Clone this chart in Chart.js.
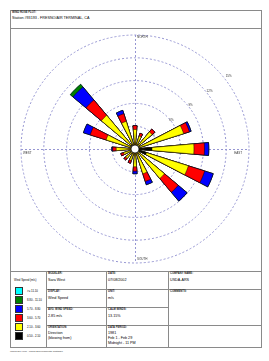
<!DOCTYPE html>
<html>
<head>
<meta charset="utf-8">
<script src="https://cdn.jsdelivr.net/npm/chart.js@4.4.0/dist/chart.umd.min.js"></script>
<style>
  html, body { margin: 0; padding: 0; background: #fff; width: 269px; height: 361px; overflow: hidden;
    font-family: "Liberation Sans", Arial, sans-serif; }
  .frame { position: absolute; left: 10px; top: 10px; width: 252px; height: 338px; box-sizing: border-box; border: 1px solid #8a8a8a; }
  .ln { position: absolute; background: #8a8a8a; }
  .t { position: absolute; white-space: nowrap; color: #000; line-height: 1; }
  .h { font-size: 2.7px; font-weight: bold; color: #222; }
  .v { font-size: 3.7px; }
  .s { font-size: 2.8px; }
  .sw { position: absolute; left: 15px; width: 8px; height: 8px; box-sizing: border-box; border: 0.5px solid #333; }
  #rose { position: absolute; left: 15px; top: 29px; }
</style>
</head>
<body>

<div class="frame"></div>
<div class="ln" style="left:10px;top:28px;width:252px;height:1px"></div>
<div class="ln" style="left:10px;top:271px;width:252px;height:1px"></div>
<div class="ln" style="left:46px;top:271px;width:1px;height:77px"></div>
<div class="ln" style="left:106px;top:271px;width:1px;height:77px"></div>
<div class="ln" style="left:168px;top:271px;width:1px;height:77px"></div>
<div class="ln" style="left:46px;top:289px;width:216px;height:1px"></div>
<div class="ln" style="left:46px;top:307px;width:122px;height:1px"></div>
<div class="ln" style="left:46px;top:325px;width:216px;height:1px"></div>

<div class="t h" style="left:12px;top:12px">WIND ROSE PLOT:</div>
<div class="t v" style="left:12px;top:17px">Station #93193 - FRESNO/AIR TERMINAL, CA</div>

<div class="t s" style="left:14px;top:279px">Wind Speed (m/s)</div>
<div id="legend"></div>

<div class="t h" style="left:48px;top:273px">MODELER:</div>
<div class="t v" style="left:48px;top:279px">Sara West</div>
<div class="t h" style="left:108px;top:273px">DATE:</div>
<div class="t v" style="left:108px;top:279px">07/08/2002</div>
<div class="t h" style="left:170px;top:273px">COMPANY NAME:</div>
<div class="t v" style="left:170px;top:279px">USDA-ARS</div>

<div class="t h" style="left:48px;top:291px">DISPLAY:</div>
<div class="t v" style="left:48px;top:297px">Wind Speed</div>
<div class="t h" style="left:108px;top:291px">UNIT:</div>
<div class="t v" style="left:108px;top:297px">m/s</div>
<div class="t h" style="left:170px;top:291px">COMMENTS:</div>

<div class="t h" style="left:48px;top:309px">AVG. WIND SPEED:</div>
<div class="t v" style="left:48px;top:315px">2.85 m/s</div>
<div class="t h" style="left:108px;top:309px">CALM WINDS:</div>
<div class="t v" style="left:108px;top:315px">13.15%</div>

<div class="t h" style="left:48px;top:327px">ORIENTATION:</div>
<div class="t v" style="left:48px;top:331.5px">Direction</div>
<div class="t v" style="left:48px;top:336.5px">(blowing from)</div>
<div class="t h" style="left:108px;top:327px">DATA PERIOD:</div>
<div class="t v" style="left:108px;top:331.5px">1981</div>
<div class="t v" style="left:108px;top:336.5px">Feb 1 - Feb 29</div>
<div class="t v" style="left:108px;top:341.5px">Midnight - 11 PM</div>

<div class="t" style="left:10px;top:351px;font-size:2.5px;color:#333">WRPLOT View - Lakes Environmental Software</div>

<canvas id="rose" width="240" height="240"></canvas>

<script>
// directions the wind blows from, clockwise from north
const directions = ["N", "NNE", "NE", "ENE", "E", "ESE", "SE", "SSE",
                    "S", "SSW", "SW", "WSW", "W", "WNW", "NW", "NNW"];

// speed classes, slowest first (m/s)
const speedClasses = ["0.50 - 2.10", "2.10 - 3.60", "3.60 - 5.70",
                      "5.70 - 8.80", "8.80 - 11.10", ">= 11.10"];

// frequency (% of hours) per direction for each class
const pct050to210 = [0.53, 0.39, 0.39, 0.53, 2.24, 1.58, 0.53, 0.39, 0.39, 0.39, 0.39, 0.39, 0.39, 0.53, 0.66, 0.53];
const pct210to360 = [2.04, 1.39, 2.56, 6.18, 5.52, 5.79, 4.54, 3.03, 1.95, 1.19, 1.23, 1.19, 2.08, 3.46, 5.13, 3.29];
const pct360to570 = [0.50, 0.39, 0.47, 0.79, 1.38, 2.24, 2.36, 1.05, 0.58, 0.39, 0.29, 0.38, 0.46, 2.19, 2.63, 1.05];
const pct570to880 = [0.00, 0.00, 0.00, 0.24, 0.57, 1.18, 1.52, 0.46, 0.34, 0.00, 0.00, 0.00, 0.12, 0.93, 2.24, 0.46];
const pct880to1110 = [0, 0, 0, 0, 0, 0, 0, 0, 0, 0, 0, 0, 0, 0, 0.46, 0];
const pct1110up = [0, 0, 0, 0, 0, 0, 0, 0, 0, 0, 0, 0, 0, 0, 0, 0];

// radial rings (%)
const ringTicks = [3, 6, 9, 12, 15];
const compassLabels = ["NORTH", "EAST", "SOUTH", "WEST"];


const classColors = ["#000000", "#ffff00", "#ff0000", "#0000ff", "#008000", "#00ffff"];
const gridColor = "#9696d2";
const petalAngle = 10;   // degrees
const gapAngle = 22.5 - petalAngle;


// ------------------------------
// LEGEND (fastest on top)
// ------------------------------

const legend = document.getElementById("legend");
for (let k = speedClasses.length - 1; k >= 0; k--) {
  const row = speedClasses.length - 1 - k;
  const top = 287 + row * 9;

  const sw = document.createElement("div");
  sw.className = "sw";
  sw.style.top = top + "px";
  sw.style.background = classColors[k];
  legend.appendChild(sw);

  const lb = document.createElement("div");
  lb.className = "t s";
  lb.style.left = "27px";
  lb.style.top = (top + 2.6) + "px";
  lb.innerText = speedClasses[k];
  legend.appendChild(lb);
}


// ------------------------------
// DATASETS (cumulative, petals with gaps between)
// ------------------------------

const classValues = [pct050to210, pct210to360, pct360to570, pct570to880, pct880to1110, pct1110up];

const labels = [];
directions.forEach(d => { labels.push(d); labels.push(""); });

const running = directions.map(() => 0);
const datasets = classValues.map((vals, k) => {
  const data = [];
  vals.forEach((v, i) => {
    running[i] += v;
    data.push(running[i]);
    data.push(0);
  });
  return {
    label: speedClasses[k],
    data: data,
    backgroundColor: classColors[k],
    borderColor: "#000",
    borderWidth: c => (c.dataIndex % 2 ? 0 : 0.5),
    angle: c => (c.dataIndex % 2 ? gapAngle : petalAngle)
  };
});


// ------------------------------
// AXES, RING LABELS, CALM CIRCLE
// ------------------------------

const roseExtras = {
  id: "roseExtras",
  beforeDatasetsDraw(chart) {
    const s = chart.scales.r;
    const ctx = chart.ctx;
    const cx = s.xCenter, cy = s.yCenter, R = s.drawingArea;

    ctx.save();
    ctx.strokeStyle = gridColor;
    ctx.lineWidth = 1;
    ctx.setLineDash([2, 2]);
    ctx.beginPath();
    ctx.moveTo(cx + 0.5, cy - R);
    ctx.lineTo(cx + 0.5, cy + R);
    ctx.moveTo(cx - R, cy + 0.5);
    ctx.lineTo(cx + R, cy + 0.5);
    ctx.stroke();
    ctx.setLineDash([]);

    ctx.fillStyle = "#333";
    ctx.font = "3px 'Liberation Sans', Arial, sans-serif";

    ctx.textAlign = "left";
    ctx.textBaseline = "top";
    ctx.fillText(compassLabels[0], cx + 2, cy - R + 1);
    ctx.textBaseline = "bottom";
    ctx.fillText(compassLabels[2], cx + 2, cy + R - 2);
    ctx.textBaseline = "top";
    ctx.fillText(compassLabels[3], cx - R + 2, cy + 2.5);
    ctx.textAlign = "right";
    ctx.fillText(compassLabels[1], cx + R - 7, cy + 2.5);

    const a = 52 * Math.PI / 180;
    ctx.textAlign = "center";
    ctx.textBaseline = "middle";
    ringTicks.forEach(t => {
      const r = s.getDistanceFromCenterForValue(t) * 1.06 - 2;
      ctx.fillText(t + "%", cx + r * Math.sin(a), cy - r * Math.cos(a));
    });
    ctx.restore();
  },
  afterDatasetsDraw(chart) {
    const s = chart.scales.r;
    const ctx = chart.ctx;
    ctx.save();
    ctx.beginPath();
    ctx.arc(s.xCenter, s.yCenter, 4, 0, Math.PI * 2);
    ctx.fillStyle = "#fff";
    ctx.fill();
    ctx.lineWidth = 0.7;
    ctx.strokeStyle = "#000";
    ctx.stroke();
    ctx.restore();
  }
};


// ------------------------------
// CHART
// ------------------------------

new Chart(document.getElementById("rose"), {
  type: "polarArea",
  data: { labels: labels, datasets: datasets },
  options: {
    responsive: false,
    animation: false,
    devicePixelRatio: 1,
    events: [],
    layout: { padding: 6 },
    plugins: { legend: { display: false }, tooltip: { enabled: false } },
    scales: {
      r: {
        min: 0,
        max: 15,
        startAngle: -petalAngle / 2,
        ticks: { display: false, stepSize: 3 },
        grid: { color: gridColor, lineWidth: 1, circular: true },
        border: { dash: [2, 2] },
        angleLines: { display: false },
        pointLabels: { display: false }
      }
    }
  },
  plugins: [roseExtras]
});
</script>
</body>
</html>
